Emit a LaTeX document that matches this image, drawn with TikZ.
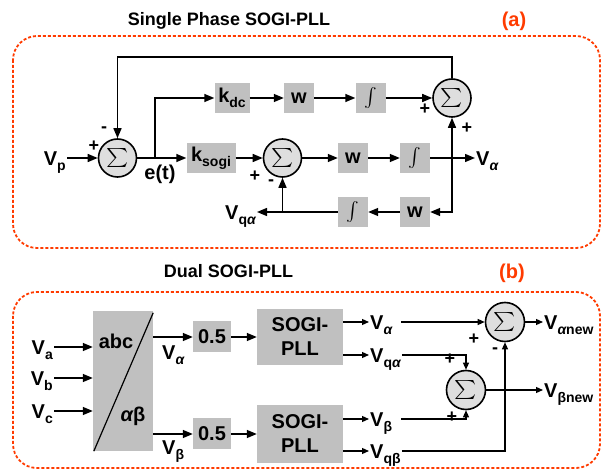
\documentclass[tikz,border=0pt]{standalone}
\usepackage{fontspec}
\setmainfont{Liberation Sans}
\usetikzlibrary{arrows.meta, positioning, calc}
\definecolor{blockFill}{HTML}{C0C0C0}
\definecolor{sumFill}{HTML}{DEDEDE}
\definecolor{frameRed}{HTML}{FF3B00}
\newcommand{\sbs}[1]{\raisebox{-0.25em}{\fontsize{14}{15}\selectfont #1}}
\newcommand{\al}{{\itshape α}}
\newcommand{\sumsym}{{\fontsize{10}{12}\selectfont\scalebox{2.1}[1.9]{$\sum$}}}
\newcommand{\intsym}{{\fontsize{10}{12}\selectfont\scalebox{1.9}{$\int$}}}
\tikzset{
  font=\bfseries\fontsize{20}{24}\selectfont,
  block/.style={rectangle, fill=blockFill, inner sep=3pt,
                minimum width=30pt, minimum height=30pt},
  sumnode/.style={circle, draw, line width=1.6pt, fill=sumFill,
                  minimum size=38pt, inner sep=0pt},
  sig/.style={-{Triangle[length=10pt, width=8pt]}, line width=1.4pt},
  sigs/.style={-{Triangle[length=7pt, width=6pt]}, line width=1.2pt},
  sigl/.style={inner sep=1pt, text height=14.3pt, text depth=0pt},
  pm/.style={font=\bfseries\fontsize{18}{20}\selectfont, inner sep=0pt},
  dashframe/.style={draw=frameRed, dash pattern=on 3pt off 2pt,
                    line width=1.8pt, rounded corners=24pt},
  headline/.style={font=\bfseries\fontsize{18}{22}\selectfont},
  panel/.style={font=\bfseries\fontsize{20}{24}\selectfont, text=frameRed},
}

\begin{document}
\begin{tikzpicture}[x=1pt, y=-1pt]
\useasboundingbox (0,0) rectangle (603,470);

% --- (a) single phase ---
\node[headline] (titleA) at (229,21) {Single Phase SOGI-PLL};
\node[panel] (tagA) at (514,21) {(a)};
\draw[dashframe] (13,36) rectangle (600,248);

\node[sumnode] (sumA1) at (117.5,158) {\sumsym};
\node[sigl, anchor=east] (vp) at (67,158) {V\sbs{p}};
\node[block, minimum width=49pt] (ksogi) at (211,158) {k\sbs{sogi}};
\node[sumnode] (sumA3) at (282.5,158) {\sumsym};
\node[block] (wA2) at (353,158) {w};
\node[block] (intA2) at (415,158) {\intsym};
\node[sigl, anchor=west] (vaA) at (475,158) {V\sbs{\al}};

\node[block, minimum width=35pt] (kdc) at (232,98) {k\sbs{dc}};
\node[block] (wA1) at (299,98) {w};
\node[block] (intA1) at (370.5,98) {\intsym};
\node[sumnode] (sumA2) at (452,98) {\sumsym};

\node[block] (intA3) at (353,212) {\intsym};
\node[block] (wA3) at (415,212) {w};
\node[sigl, anchor=east] (vqaA) at (257,212) {V\sbs{q\al}};
\node (et) at (160,174.5) {e(t)};

\node[pm] (pA1) at (94,146) {+};
\node[pm] (mA1) at (104,130) {-};
\node[pm] (pA2) at (425,109) {+};
\node[pm] (pA3) at (467,128) {+};
\node[pm] (pA4) at (255,176) {+};
\node[pm] (mA2) at (271,183) {-};

\draw[sig] (vp) -- (sumA1);
\draw[sig] (sumA1) -- (ksogi);
\coordinate (eA) at (155,158);
\draw[sig] (eA) |- (kdc);
\draw[sig] (kdc) -- (wA1);
\draw[sig] (wA1) -- (intA1);
\draw[sig] (intA1) -- (sumA2);
\draw[sig] (sumA2.north) -- ++(0,-21) -| (sumA1.north);
\draw[sig] (ksogi) -- (sumA3);
\draw[sig] (sumA3) -- (wA2);
\draw[sig] (wA2) -- (intA2);
\draw[sig] (intA2) -- (vaA);
\coordinate (tapA) at (452,158);
\draw[sig] (tapA) -- (sumA2.south);
\draw[sig] (tapA) |- (wA3);
\draw[sig] (wA3) -- (intA3);
\draw[sig] (intA3) -- (vqaA);
\coordinate (tapB) at (282.5,212);
\draw[sig] (tapB) -- (sumA3.south);

% --- (b) dual SOGI ---
\node[headline] (titleB) at (228.5,271.5) {Dual SOGI-PLL};
\node[panel] (tagB) at (512,273) {(b)};
\draw[dashframe] (13,292) rectangle (600,468);

\node[block, minimum width=60pt, minimum height=140pt, inner sep=0pt] (abc) at (123,381) {};
\draw[line width=1.2pt] ([yshift=-2pt]abc.north east) -- ([xshift=1pt]abc.south west);
\node (abcTxt) at (116,341) {abc};
\node (abTxt) at (133,416) {\al β};

\node[sigl, anchor=east] (va) at (54,347) {V\sbs{a}};
\node[sigl, anchor=east] (vb) at (54,378) {V\sbs{b}};
\node[sigl, anchor=east] (vc) at (54,411) {V\sbs{c}};
\draw[sig] (va) -- (va -| abc.west);
\draw[sig] (vb) -- (vb -| abc.west);
\draw[sig] (vc) -- (vc -| abc.west);

\node[block, minimum width=38pt, minimum height=31pt] (halfA) at (212,337) {0.5};
\node[block, minimum width=38pt, minimum height=31pt] (halfB) at (212,434) {0.5};
\node[block, minimum width=86pt, minimum height=56pt, align=center] (sogiA) at (300,337) {SOGI-\\PLL};
\node[block, minimum width=86pt, minimum height=58pt, align=center] (sogiB) at (300,434) {SOGI-\\PLL};
\node[sigl, anchor=west] (vaIn) at (161,352) {V\sbs{\al}};
\node[sigl, anchor=west] (vbIn) at (161,447) {V\sbs{β}};
\draw[sig] (abc.east |- halfA) -- (halfA);
\draw[sig] (abc.east |- halfB) -- (halfB);
\draw[sig] (halfA) -- (sogiA);
\draw[sig] (halfB) -- (sogiB);

\node[sigl, anchor=west] (vaB) at (369,322) {V\sbs{\al}};
\node[sigl, anchor=west] (vqaB) at (369,355) {V\sbs{q\al}};
\node[sigl, anchor=west] (vbB) at (369,419) {V\sbs{β}};
\node[sigl, anchor=west] (vqbB) at (369,451) {V\sbs{qβ}};
\draw[sigs] (sogiA.east |- vaB) -- (vaB);
\draw[sigs] (sogiA.east |- vqaB) -- (vqaB);
\draw[sigs] (sogiB.east |- vbB) -- (vbB);
\draw[sigs] (sogiB.east |- vqbB) -- (vqbB);

\node[sumnode, minimum size=39pt] (sumB1) at (505,322) {\sumsym};
\node[sumnode, minimum size=39pt] (sumB2) at (466,390) {\sumsym};
\node[sigl, anchor=west] (vanew) at (543,322) {V\sbs{\al new}};
\node[sigl, anchor=west] (vbnew) at (543,390) {V\sbs{βnew}};
\node[pm] (pB1) at (474,339) {+};
\node[pm] (mB1) at (495,351) {-};
\node[pm] (pB2) at (450,359) {+};
\node[pm] (pB3) at (452,417) {+};

\draw[sigs] ([xshift=8pt]vaB.east) -- (sumB1);
\draw[sigs] (vqaB.east) -| (sumB2.north);
\draw[sigs] ([xshift=8pt]vbB.east) -| (sumB2.south);
\draw[sigs] (vqbB.east) -| (sumB1.south);
\draw[sigs] (sumB1) -- (vanew);
\draw[sigs] (sumB2) -- (vbnew);

\end{tikzpicture}
\end{document}
